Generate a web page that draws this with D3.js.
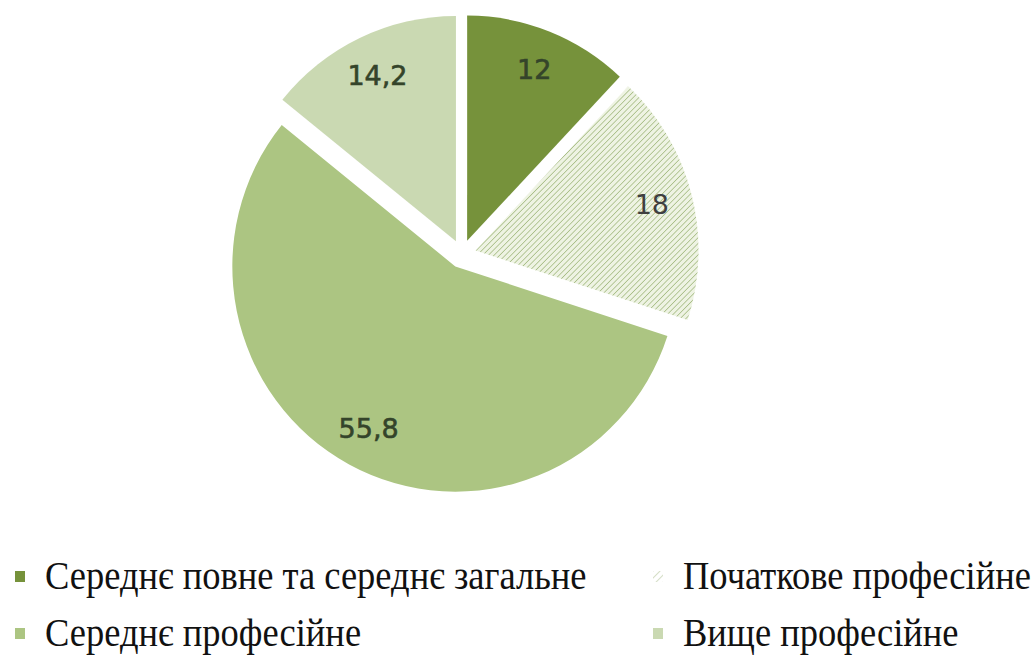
<!DOCTYPE html>
<html>
<head>
<meta charset="utf-8">
<script src="https://cdn.jsdelivr.net/npm/d3@7"></script>
<style>
  html, body { margin: 0; padding: 0; background: #ffffff; }
  svg { display: block; }
</style>
</head>
<body>
<svg id="chart" width="1035" height="656"></svg>
<script>
const categories = [
  "Середнє повне та середнє загальне",
  "Початкове професійне",
  "Середнє професійне",
  "Вище професійне"
];
const values = [12, 18, 55.8, 14.2];
const labels = ["12", "18", "55,8", "14,2"];
const colors = ["#76923b", "url(#hatch)", "#acc582", "#cad9b2"];
const legendColors = ["#76923b", "url(#hatchLegend)", "#acc582", "#cad9b2"];

const svg = d3.select("#chart");
const cx = 462, cy = 254, R = 223, explode = 14, labelR = 182;

const defs = svg.append("defs");
const pat = defs.append("pattern")
  .attr("id", "hatch").attr("patternUnits", "userSpaceOnUse")
  .attr("width", 4).attr("height", 4)
  .attr("patternTransform", "rotate(45)");
pat.append("rect").attr("width", 4).attr("height", 4).attr("fill", "#eef3e3");
pat.append("line").attr("x1", 0).attr("y1", 0).attr("x2", 0).attr("y2", 4)
  .attr("stroke", "#a9be88").attr("stroke-width", 1.6);

const patL = defs.append("pattern")
  .attr("id", "hatchLegend").attr("patternUnits", "userSpaceOnUse")
  .attr("width", 5).attr("height", 5)
  .attr("patternTransform", "rotate(45)");
patL.append("rect").attr("width", 5).attr("height", 5).attr("fill", "#ffffff");
patL.append("line").attr("x1", 0).attr("y1", 0).attr("x2", 0).attr("y2", 5)
  .attr("stroke", "#c7d4b3").attr("stroke-width", 1.5);

const pie = d3.pie().sort(null).value(d => d)(values);
const arc = d3.arc().innerRadius(0).outerRadius(R);

const g = svg.append("g").attr("transform", `translate(${cx},${cy}) scale(1,1.01)`);

const slices = g.selectAll("g.slice").data(pie).enter().append("g")
  .attr("class", "slice")
  .attr("transform", d => {
    const a = (d.startAngle + d.endAngle) / 2;
    return `translate(${explode * Math.sin(a)},${-explode * Math.cos(a)})`;
  });

slices.append("path")
  .attr("d", arc)
  .attr("fill", (d, i) => colors[i]);

slices.append("text")
  .attr("x", d => labelR * Math.sin((d.startAngle + d.endAngle) / 2))
  .attr("y", d => -labelR * Math.cos((d.startAngle + d.endAngle) / 2))
  .attr("text-anchor", "middle")
  .attr("dominant-baseline", "central")
  .attr("font-family", "'DejaVu Sans', Verdana, sans-serif")
  .attr("font-size", 27)
  .attr("stroke", (d, i) => i === 1 ? "none" : "#34442a")
  .attr("stroke-width", 0.6)
  .attr("fill", (d, i) => i === 1 ? "#3f3f3f" : "#34442a")
  .text((d, i) => labels[i]);

// Legend
const legendX = [45, 683];
const legendY = [577, 634];
const lg = svg.append("g");
categories.forEach((c, i) => {
  const col = i === 0 || i === 2 ? 0 : 1;
  const row = i < 2 ? 0 : 1;
  const x = legendX[col], y = legendY[row];
  lg.append("rect")
    .attr("x", x - 30).attr("y", y - 6)
    .attr("width", 10).attr("height", 11)
    .attr("fill", legendColors[i]);
  lg.append("text")
    .attr("transform", `translate(${x},${y + 12}) scale(1,1.09)`)
    .attr("font-family", "'Liberation Serif', 'Times New Roman', serif")
    .attr("font-size", 36.5)
    .attr("fill", "#111")
    .text(c);
});
</script>
</body>
</html>
